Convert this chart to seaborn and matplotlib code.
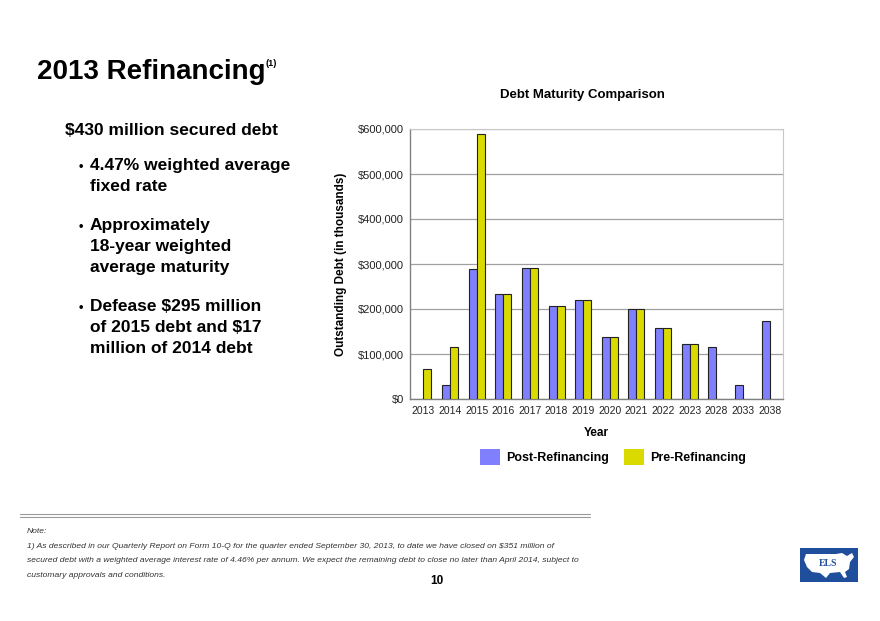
import numpy as np
import pandas as pd
import matplotlib
matplotlib.use("Agg")
import matplotlib.pyplot as plt
import matplotlib.patches as mpatches
from matplotlib.ticker import FuncFormatter, MultipleLocator
import seaborn as sns

# data (in thousands of dollars)
years = ["2013", "2014", "2015", "2016", "2017", "2018", "2019",
         "2020", "2021", "2022", "2023", "2028", "2033", "2038"]
post_refi = [np.nan, 31000, 289000, 233000, 292000, 206000, 220000,
             138000, 200000, 157000, 122000, 115000, 31000, 173000]
pre_refi = [66000, 115000, 589000, 233000, 292000, 206000, 220000,
            138000, 200000, 157000, 122000, np.nan, np.nan, np.nan]
series_names = ["Post-Refinancing", "Pre-Refinancing"]
series_colors = ["#8080FF", "#DADA00"]

bullets = [
    ["4.47% weighted average", "fixed rate"],
    ["Approximately", "18-year weighted", "average maturity"],
    ["Defease $295 million", "of 2015 debt and $17", "million of 2014 debt"],
]
note_lines = [
    "1) As described in our Quarterly Report on Form 10-Q for the quarter ended September 30, 2013, to date we have closed on $351 million of",
    "secured debt with a weighted average interest rate of 4.46% per annum. We expect the remaining debt to close no later than April 2014, subject to",
    "customary approvals and conditions.",
]

df = pd.DataFrame({
    "year": years * 2,
    "debt": post_refi + pre_refi,
    "series": [series_names[0]] * len(years) + [series_names[1]] * len(years),
})

sns.set_style("white")
plt.rcParams["font.family"] = ["Liberation Sans", "DejaVu Sans"]
plt.rcParams["text.color"] = "black"
plt.rcParams["axes.labelcolor"] = "black"
plt.rcParams["xtick.labelcolor"] = "#222222"
plt.rcParams["ytick.labelcolor"] = "#222222"

W, H = 880, 621
fig = plt.figure(figsize=(W / 100, H / 100), dpi=100)


def fx(x):
    return x / W


def fy(y):
    return 1 - y / H


ax = fig.add_axes([fx(410), fy(399), fx(783) - fx(410), fy(129) - fy(399)])
sns.barplot(data=df, x="year", y="debt", hue="series", hue_order=series_names,
            palette=series_colors, width=0.6, gap=0, edgecolor="#222222",
            linewidth=0.8, saturation=1, legend=False, ax=ax, zorder=3)

ax.set_ylim(0, 600000)
ax.set_xlim(-0.5, len(years) - 0.5)
ax.yaxis.set_major_locator(MultipleLocator(100000))
ax.yaxis.set_major_formatter(FuncFormatter(lambda v, p: f"${v:,.0f}"))
ax.yaxis.grid(True, color="#a0a0a0", linewidth=0.9, zorder=0)
ax.set_axisbelow(True)
ax.tick_params(axis="y", labelsize=8, length=3, color="#808080", pad=1.5)
ax.tick_params(axis="x", which="major", labelsize=7.5, length=0, pad=5)
ax.set_xticks(np.arange(-0.5, len(years)), minor=True)
ax.tick_params(axis="x", which="minor", length=4, color="#808080")

for side in ["left", "bottom"]:
    ax.spines[side].set_color("#808080")
    ax.spines[side].set_linewidth(1.0)
for side in ["top", "right"]:
    ax.spines[side].set_visible(True)
    ax.spines[side].set_color("#c8c8c8")
    ax.spines[side].set_linewidth(0.8)

ax.set_xlabel("Year", fontsize=8.5, fontweight="bold", labelpad=8)
ax.set_ylabel("Outstanding Debt (in thousands)", fontsize=8.5,
              fontweight="bold", labelpad=8)
fig.text(fx(582), fy(95), "Debt Maturity Comparison", fontsize=9.5,
         fontweight="bold", ha="center", va="center")

handles = [mpatches.Patch(facecolor=c, edgecolor="none") for c in series_colors]
fig.legend(handles, series_names, loc="center", bbox_to_anchor=(fx(613), fy(457)),
           ncol=2, frameon=False, prop={"size": 9, "weight": "bold"},
           handlelength=1.6, handleheight=1.6, handletextpad=0.5,
           columnspacing=1.2)

# left-hand text block
fig.text(fx(37), fy(79), "2013 Refinancing", fontsize=20, fontweight="bold",
         ha="left", va="baseline")
fig.text(fx(266), fy(66), "(1)", fontsize=6.5, fontweight="bold",
         ha="left", va="baseline")
fig.text(fx(65), fy(135), "$430 million secured debt", fontsize=12.5,
         fontweight="bold", ha="left", va="baseline")
starts = [170, 230, 311]
for start, lines in zip(starts, bullets):
    fig.text(fx(79), fy(start), "\u2022", fontsize=9, fontweight="bold",
             ha="left", va="baseline")
    for i, line in enumerate(lines):
        fig.text(fx(90), fy(start + 21 * i), line, fontsize=12.5,
                 fontweight="bold", ha="left", va="baseline")

# footnote
fig.add_artist(plt.Line2D([fx(20), fx(590)], [fy(514), fy(514)],
                          color="#9a9a9a", linewidth=0.8))
fig.add_artist(plt.Line2D([fx(20), fx(590)], [fy(516.5), fy(516.5)],
                          color="#9a9a9a", linewidth=0.8))
fig.text(fx(27), fy(533), "Note:", fontsize=6.1, style="italic",
         color="#333333", ha="left", va="baseline")
for i, line in enumerate(note_lines):
    fig.text(fx(27), fy(548 + 14.5 * i), line, fontsize=6.1, style="italic",
             color="#333333", ha="left", va="baseline")
fig.text(fx(437), fy(584), "10", fontsize=8.5, fontweight="bold",
         ha="center", va="baseline")

# logo
logo = fig.add_axes([fx(800), fy(582), fx(858) - fx(800), fy(548) - fy(582)])
logo.set_xlim(0, 58)
logo.set_ylim(34, 0)
logo.axis("off")
logo.add_patch(mpatches.Rectangle((0, 0), 58, 34, facecolor="#1f4f9c",
                                  edgecolor="none"))
us_shape = [(6, 6), (20, 6), (36, 6), (42, 5), (47, 8), (52, 5), (54, 9),
            (50, 14), (49, 21), (45, 24), (47, 29), (44, 30), (40, 24),
            (30, 25), (26, 30), (20, 25), (12, 24), (7, 19), (4, 12)]
logo.add_patch(mpatches.Polygon(us_shape, closed=True, facecolor="white",
                                edgecolor="none"))
logo.text(28, 16, "ELS", fontsize=7, color="#1f4f9c", family="Liberation Serif",
          fontweight="bold", ha="center", va="center")

fig.savefig("out.png", dpi=100)
